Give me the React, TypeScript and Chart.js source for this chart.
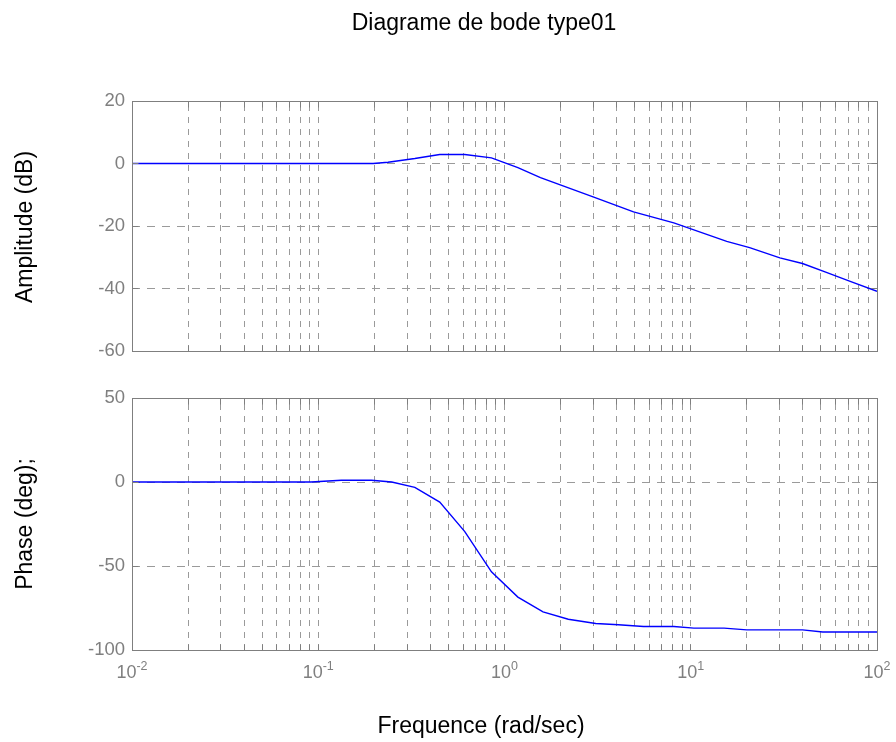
import React, { useEffect, useRef } from "react";
import { Chart, registerables } from "chart.js";

Chart.register(...registerables);

// ---- data ----
const TITLE = "Diagrame de bode type01";
const MAG_LABEL = "Amplitude (dB)";
const PHASE_LABEL = "Phase (deg);";
const X_LABEL = "Frequence (rad/sec)";

const DECADE_EXPONENTS = [-2, -1, 0, 1, 2];
const MINOR_MULTIPLIERS = [2, 3, 4, 5, 6, 7, 8, 9];

const MAG_TICKS = [-60, -40, -20, 0, 20];
const PHASE_TICKS = [-100, -50, 0, 50];

const magFreq = [0.01, 0.197, 0.237, 0.33, 0.449, 0.612, 0.851, 1.18, 1.56, 2.99, 4.93, 8.11, 15.6, 20.7, 30.1, 39.8, 52.6, 71.8, 100];
const magDb = [0, 0, 0.4, 1.6, 2.9, 2.9, 1.8, -1.3, -4.5, -10.7, -15.5, -19.0, -24.9, -26.9, -30.2, -32.0, -34.7, -37.7, -40.9];

const phaseFreq = [0.01, 0.0914, 0.133, 0.193, 0.248, 0.33, 0.449, 0.612, 0.851, 1.18, 1.61, 2.2, 3.09, 4.09, 5.58, 8.11, 10.4, 15.1, 20.0, 39.8, 51.1, 100];
const phaseDeg = [0, 0, 1, 1, 0, -3.2, -12, -29.5, -53.5, -68.5, -77.3, -81.7, -84.2, -85.0, -86.0, -86.0, -87.0, -87.0, -88.0, -88.0, -89.3, -89.3];

// ---- styles ----
const FONT = '"Liberation Sans", Arial, Helvetica, sans-serif';
const GRID_COLOR = "#9a9a9a";
const AXIS_COLOR = "#7f7f7f";
const TICK_TEXT = "#7f7f7f";
const LINE_COLOR = "#0000ff";

const xMin = Math.pow(10, DECADE_EXPONENTS[0]);
const xMax = Math.pow(10, DECADE_EXPONENTS[DECADE_EXPONENTS.length - 1]);

function xGridValues(): number[] {
  const out: number[] = [];
  DECADE_EXPONENTS.forEach((e, i) => {
    const base = Math.pow(10, e);
    out.push(base);
    if (i < DECADE_EXPONENTS.length - 1) MINOR_MULTIPLIERS.forEach((m) => out.push(base * m));
  });
  return out;
}

function makeFramePlugin(yTicks: number[], drawText: (ctx: CanvasRenderingContext2D, chart: any) => void) {
  return {
    id: "matlabFrame",
    beforeDatasetsDraw(chart: any) {
      const { ctx, chartArea: a, scales } = chart;
      const x = scales.x;
      const y = scales.y;
      ctx.save();
      ctx.strokeStyle = GRID_COLOR;
      ctx.lineWidth = 1;
      ctx.setLineDash([6, 6]);
      for (const v of xGridValues()) {
        const px = Math.floor(x.getPixelForValue(v)) + 0.5;
        if (px <= a.left + 1 || px >= a.right - 1) continue;
        ctx.beginPath();
        ctx.moveTo(px, a.bottom);
        ctx.lineTo(px, a.top);
        ctx.stroke();
      }
      ctx.setLineDash([8, 7]);
      for (const v of yTicks) {
        const py = Math.floor(y.getPixelForValue(v)) + 0.5;
        if (py <= a.top + 1 || py >= a.bottom - 1) continue;
        ctx.beginPath();
        ctx.moveTo(a.left, py);
        ctx.lineTo(a.right, py);
        ctx.stroke();
      }
      ctx.restore();
    },
    afterDatasetsDraw(chart: any) {
      const { ctx, chartArea: a, scales } = chart;
      const x = scales.x;
      const y = scales.y;
      const L = Math.floor(a.left) + 0.5;
      const R = Math.floor(a.right) + 0.5;
      const T = Math.floor(a.top) + 0.5;
      const B = Math.floor(a.bottom) + 0.5;
      ctx.save();
      ctx.setLineDash([]);
      ctx.strokeStyle = AXIS_COLOR;
      ctx.lineWidth = 1;
      ctx.strokeRect(L, T, R - L, B - T);
      const tl = 6;
      ctx.beginPath();
      for (const v of xGridValues()) {
        const px = Math.floor(x.getPixelForValue(v)) + 0.5;
        ctx.moveTo(px, B);
        ctx.lineTo(px, B - tl);
        ctx.moveTo(px, T);
        ctx.lineTo(px, T + tl);
      }
      for (const v of yTicks) {
        const py = Math.floor(y.getPixelForValue(v)) + 0.5;
        ctx.moveTo(L, py);
        ctx.lineTo(L + tl, py);
        ctx.moveTo(R, py);
        ctx.lineTo(R - tl, py);
      }
      ctx.stroke();
      ctx.restore();
    },
    afterDraw(chart: any) {
      const ctx = chart.ctx;
      ctx.save();
      drawText(ctx, chart);
      ctx.restore();
    },
  };
}

function buildConfig(
  freq: number[],
  vals: number[],
  yTicks: number[],
  padding: any,
  drawText: (ctx: CanvasRenderingContext2D, chart: any) => void
): any {
  return {
    type: "line",
    data: {
      datasets: [
        {
          data: freq.map((f, i) => ({ x: f, y: vals[i] })),
          borderColor: LINE_COLOR,
          borderWidth: 1.4,
          pointRadius: 0,
          tension: 0,
          fill: false,
        },
      ],
    },
    options: {
      animation: false,
      responsive: false,
      devicePixelRatio: 1,
      layout: { padding },
      plugins: { legend: { display: false }, tooltip: { enabled: false }, title: { display: false } },
      scales: {
        x: {
          type: "logarithmic",
          min: xMin,
          max: xMax,
          grid: { display: false },
          border: { display: false },
          ticks: { display: false },
          afterFit: (s: any) => {
            s.height = 0;
          },
        },
        y: {
          type: "linear",
          min: yTicks[0],
          max: yTicks[yTicks.length - 1],
          grid: { display: false, drawTicks: false },
          border: { display: false },
          afterBuildTicks: (s: any) => {
            s.ticks = yTicks.map((v) => ({ value: v }));
          },
          afterFit: (s: any) => {
            s.width = 132;
          },
          ticks: {
            color: TICK_TEXT,
            padding: 7,
            font: { family: FONT, size: 18.5 },
            callback: (v: any) => String(v),
          },
        },
      },
    },
    plugins: [makeFramePlugin(yTicks, drawText)],
  };
}

function drawRotated(ctx: CanvasRenderingContext2D, text: string, cx: number, cy: number) {
  ctx.save();
  ctx.translate(cx, cy);
  ctx.rotate(-Math.PI / 2);
  ctx.fillStyle = "#000";
  ctx.font = `23px ${FONT}`;
  ctx.textAlign = "center";
  ctx.textBaseline = "middle";
  ctx.fillText(text, 0, 0);
  ctx.restore();
}

const TOP_H = 376;
const BOT_H = 366;

export default function App() {
  const topRef = useRef<HTMLCanvasElement>(null);
  const botRef = useRef<HTMLCanvasElement>(null);

  useEffect(() => {
    const top = new Chart(
      topRef.current as HTMLCanvasElement,
      buildConfig(magFreq, magDb, MAG_TICKS, { top: 101, bottom: 25, left: 0, right: 19 }, (ctx) => {
        ctx.fillStyle = "#000";
        ctx.font = `23px ${FONT}`;
        ctx.textAlign = "center";
        ctx.textBaseline = "alphabetic";
        ctx.fillText(TITLE, 484, 29.5);
        drawRotated(ctx, MAG_LABEL, 26, 227);
      })
    );
    const bot = new Chart(
      botRef.current as HTMLCanvasElement,
      buildConfig(phaseFreq, phaseDeg, PHASE_TICKS, { top: 22, bottom: 92, left: 0, right: 19 }, (ctx, chart) => {
        const x = chart.scales.x;
        ctx.fillStyle = TICK_TEXT;
        ctx.textBaseline = "alphabetic";
        ctx.textAlign = "left";
        for (const e of DECADE_EXPONENTS) {
          const px = x.getPixelForValue(Math.pow(10, e));
          const base = "10";
          const exp = String(e);
          ctx.font = `18px ${FONT}`;
          const wb = ctx.measureText(base).width;
          ctx.font = `12.5px ${FONT}`;
          const we = ctx.measureText(exp).width;
          const start = px - (wb + we) / 2;
          ctx.font = `18px ${FONT}`;
          ctx.fillText(base, start, 302);
          ctx.font = `12.5px ${FONT}`;
          ctx.fillText(exp, start + wb, 294);
        }
        ctx.fillStyle = "#000";
        ctx.font = `23px ${FONT}`;
        ctx.textAlign = "center";
        ctx.fillText(X_LABEL, 481, 356.5);
        drawRotated(ctx, PHASE_LABEL, 26, 148);
      })
    );
    return () => {
      top.destroy();
      bot.destroy();
    };
  }, []);

  return (
    <div style={{ position: "absolute", left: 0, top: 0, width: 896, height: 742, background: "#fff" }}>
      <canvas ref={topRef} width={896} height={TOP_H} style={{ position: "absolute", left: 0, top: 0, width: 896, height: TOP_H }} />
      <canvas ref={botRef} width={896} height={BOT_H} style={{ position: "absolute", left: 0, top: TOP_H, width: 896, height: BOT_H }} />
    </div>
  );
}
